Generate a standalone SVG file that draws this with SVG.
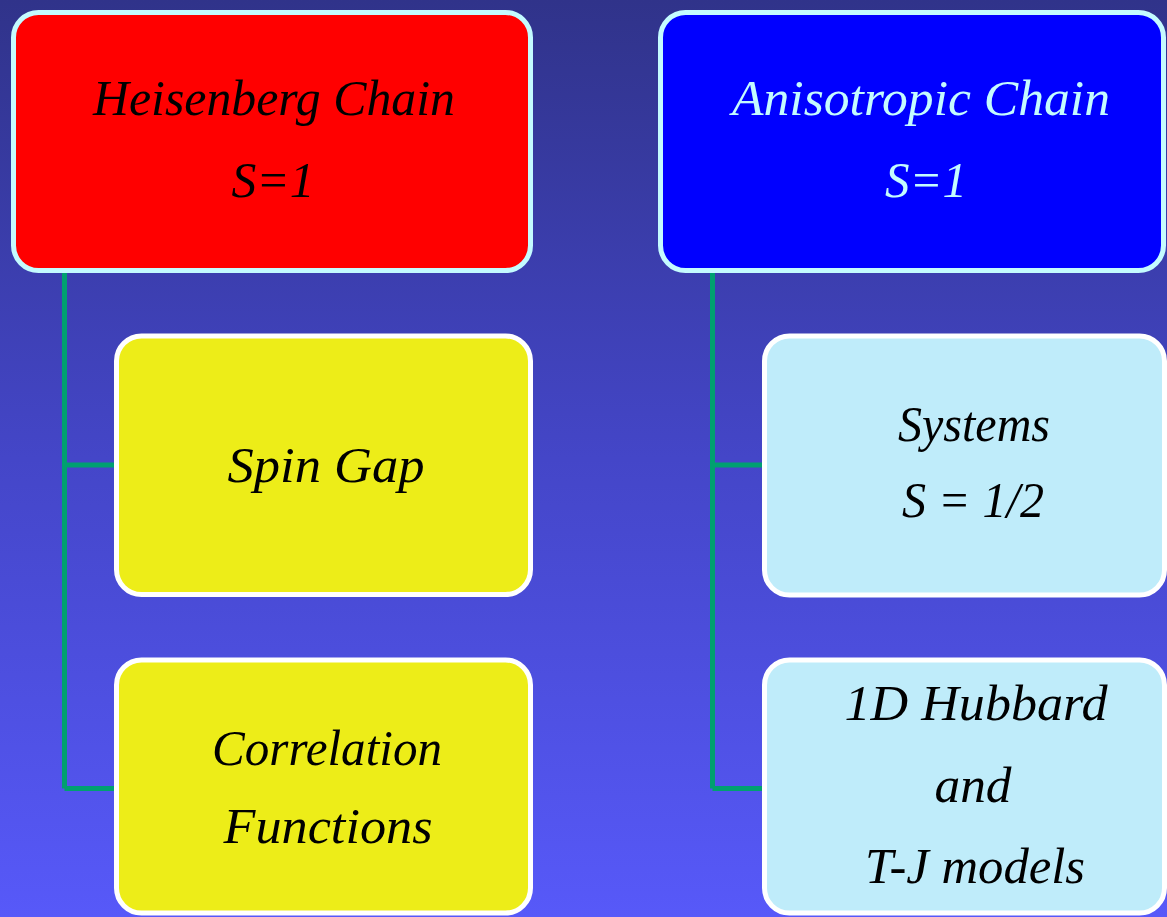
<svg xmlns="http://www.w3.org/2000/svg" width="1167" height="917" viewBox="0 0 1167 917">
  <defs>
    <linearGradient id="bg" x1="0" y1="0" x2="0" y2="1">
      <stop offset="0" stop-color="#30338a"/>
      <stop offset="0.5" stop-color="#4446c8"/>
      <stop offset="1" stop-color="#5759f9"/>
    </linearGradient>
  </defs>
  <style>
    .box { stroke-width: 5; }
    .top { stroke: #c4fbff; }
    .sub { stroke: #ffffff; }
    .red { fill: #ff0000; }
    .blue { fill: #0000ff; }
    .yellow { fill: #eded18; }
    .pale { fill: #bfecfa; }
    text { font-family: "Liberation Serif", "DejaVu Serif", serif; font-style: italic; font-size: 50px; text-anchor: middle; fill: #000000; }
    .light { fill: #c4fbff; }
    .link { fill: none; stroke: #00a070; stroke-width: 5; }
  </style>

  <rect x="0" y="0" width="1167" height="917" fill="url(#bg)"/>

  <!-- tree connectors -->
  <g id="connectors">
    <path class="link" d="M64.5 271 V788.5 M64.5 465 H117 M64.5 788.5 H117"/>
    <path class="link" d="M712.5 271 V788.5 M712.5 465 H765 M712.5 788.5 H765"/>
  </g>

  <g id="heisenberg">
    <rect class="box top red" x="13.5" y="12.5" width="517" height="258" rx="25"/>
    <text x="274" y="115" textLength="362" lengthAdjust="spacingAndGlyphs">Heisenberg Chain</text>
    <text x="273" y="197" textLength="83" lengthAdjust="spacingAndGlyphs">S=1</text>
  </g>

  <g id="anisotropic">
    <rect class="box top blue" x="660.5" y="12.5" width="503" height="258" rx="25"/>
    <text class="light" x="921" y="115" textLength="378" lengthAdjust="spacingAndGlyphs">Anisotropic Chain</text>
    <text class="light" x="926" y="197" textLength="82" lengthAdjust="spacingAndGlyphs">S=1</text>
  </g>

  <g id="spin-gap">
    <rect class="box sub yellow" x="116.5" y="336" width="414" height="258.5" rx="25"/>
    <text x="326" y="482" textLength="197" lengthAdjust="spacingAndGlyphs">Spin Gap</text>
  </g>

  <g id="correlation">
    <rect class="box sub yellow" x="116.5" y="660" width="414" height="253" rx="25"/>
    <text x="327" y="765" textLength="230" lengthAdjust="spacingAndGlyphs">Correlation</text>
    <text x="328" y="843" textLength="209" lengthAdjust="spacingAndGlyphs">Functions</text>
  </g>

  <g id="systems">
    <rect class="box sub pale" x="764.5" y="336" width="400" height="259" rx="25"/>
    <text x="974" y="441" textLength="152" lengthAdjust="spacingAndGlyphs">Systems</text>
    <text x="973" y="517" textLength="142" lengthAdjust="spacingAndGlyphs">S = 1/2</text>
  </g>

  <g id="hubbard">
    <rect class="box sub pale" x="764.5" y="660" width="400" height="253" rx="25"/>
    <text x="976" y="720" textLength="263" lengthAdjust="spacingAndGlyphs">1D Hubbard</text>
    <text x="973" y="802" textLength="77" lengthAdjust="spacingAndGlyphs">and</text>
    <text x="975" y="883" textLength="220" lengthAdjust="spacingAndGlyphs">T-J models</text>
  </g>
</svg>
